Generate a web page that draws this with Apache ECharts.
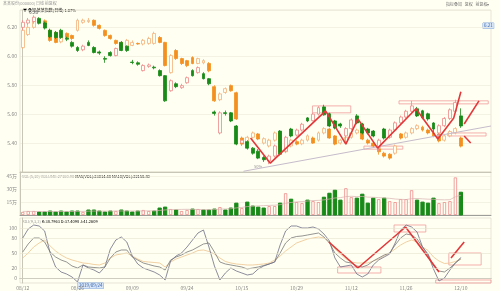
<!DOCTYPE html>
<html><head><meta charset="utf-8">
<script src="https://cdn.jsdelivr.net/npm/echarts@6/dist/echarts.min.js"></script>
<style>html,body{margin:0;padding:0;background:#fffff2;}#c{width:500px;height:291px;}</style>
</head><body><div id="c"></div>
<script>
// ---------- DATA ----------
const dates = ['08/12','08/13','08/14','08/15','08/16','08/19','08/20','08/21','08/22','08/23','08/26','08/27','08/28','08/29','08/30',
'09/02','09/03','09/04','09/05','09/06','09/09','09/10','09/11','09/12','09/16','09/17','09/18','09/19','09/20','09/23','09/24','09/25','09/26','09/27','09/30',
'10/08','10/09','10/10','10/11','10/14','10/15','10/16','10/17','10/18','10/21','10/22','10/23','10/24','10/25','10/28','10/29','10/30','10/31',
'11/01','11/04','11/05','11/06','11/07','11/08','11/11','11/12','11/13','11/14','11/15','11/18','11/19','11/20','11/21','11/22','11/25','11/26','11/27','11/28','11/29',
'12/02','12/03','12/04','12/05','12/06','12/09','12/10'];
const padCategories = ['','','','',''];
// main stock [open, close, low, high]
const mainCandles = [
[6.200,6.235,6.180,6.250],[6.230,6.250,6.215,6.265],[6.240,6.270,6.225,6.283],[6.262,6.228,6.220,6.270],[6.230,6.195,6.185,6.240],
[6.180,6.135,6.125,6.190],[6.165,6.130,6.120,6.175],[6.180,6.130,6.120,6.190],[6.125,6.118,6.105,6.135],[6.096,6.070,6.060,6.105],
[6.061,6.040,6.030,6.070],[6.045,6.070,6.035,6.080],[6.096,6.075,6.070,6.110],[6.061,6.026,6.020,6.070],[6.030,6.022,6.010,6.040],
[5.985,5.980,5.955,6.000],[6.026,6.005,5.998,6.035],[6.005,6.054,6.000,6.060],[6.096,6.040,6.035,6.105],[6.070,6.040,6.030,6.075],
[5.960,5.957,5.945,5.975],[5.955,5.945,5.935,5.965],[5.901,5.936,5.895,5.945],[5.930,5.940,5.920,5.950],[5.925,5.920,5.910,5.935],
[5.901,5.866,5.860,5.910],[5.866,5.692,5.685,5.870],[5.762,5.831,5.755,5.840],[5.810,5.790,5.780,5.820],[5.783,5.797,5.775,5.810],
[5.817,5.852,5.810,5.860],[5.901,5.866,5.860,5.910],[5.887,5.922,5.880,5.930],[5.880,5.845,5.840,5.890],[5.845,5.810,5.800,5.850],
[5.615,5.605,5.590,5.625],[5.470,5.609,5.460,5.620],[5.610,5.605,5.590,5.625],[5.609,5.553,5.545,5.615],[5.518,5.393,5.385,5.525],
[5.400,5.420,5.380,5.435],[5.410,5.365,5.355,5.420],[5.365,5.330,5.320,5.372],[5.344,5.296,5.289,5.358],[5.300,5.285,5.270,5.310],
[5.275,5.310,5.254,5.320],[5.310,5.380,5.300,5.390],[5.483,5.323,5.315,5.490],[5.344,5.440,5.335,5.450],[5.497,5.449,5.440,5.505],
[5.455,5.490,5.445,5.500],[5.490,5.530,5.480,5.540],[5.574,5.553,5.545,5.580],[5.555,5.600,5.550,5.610],[5.600,5.645,5.590,5.655],
[5.650,5.595,5.590,5.665],[5.602,5.518,5.510,5.610],[5.553,5.504,5.495,5.560],[5.532,5.518,5.505,5.540],[5.450,5.500,5.400,5.510],
[5.500,5.560,5.490,5.570],[5.588,5.539,5.530,5.600],[5.532,5.470,5.460,5.540],[5.497,5.470,5.460,5.505],[5.483,5.449,5.440,5.490],
[5.370,5.420,5.344,5.430],[5.497,5.435,5.425,5.505],[5.440,5.490,5.430,5.500],[5.490,5.540,5.480,5.550],[5.540,5.580,5.530,5.590],
[5.580,5.620,5.570,5.630],[5.620,5.657,5.610,5.692],[5.637,5.588,5.580,5.650],[5.623,5.574,5.565,5.630],[5.602,5.567,5.555,5.610],
[5.539,5.497,5.470,5.545],[5.470,5.520,5.440,5.530],[5.520,5.570,5.510,5.580],[5.570,5.630,5.560,5.640],[5.620,5.680,5.610,5.700],
[5.588,5.518,5.505,5.640]];
// overlaid index [open, close, low, high]
const overlayCandles = [
[6.060,6.180,6.050,6.200],[6.150,6.200,6.140,6.215],[6.200,6.240,6.190,6.250],[6.240,6.255,6.225,6.265],[6.245,6.220,6.210,6.255],
[6.179,6.110,6.100,6.190],[6.165,6.096,6.090,6.175],[6.100,6.130,6.090,6.140],[6.158,6.130,6.120,6.165],[6.144,6.123,6.110,6.150],
[6.179,6.249,6.170,6.260],[6.235,6.249,6.225,6.260],[6.240,6.249,6.230,6.265],[6.249,6.214,6.205,6.255],[6.214,6.193,6.185,6.220],
[6.179,6.144,6.135,6.185],[6.144,6.123,6.115,6.150],[6.110,6.089,6.080,6.115],[6.096,6.061,6.055,6.100],[6.068,6.110,6.060,6.120],
[6.075,6.096,6.070,6.110],[6.089,6.085,6.080,6.095],[6.085,6.110,6.075,6.120],[6.089,6.123,6.080,6.135],[6.089,6.158,6.080,6.170],
[6.130,6.096,6.090,6.140],[6.096,5.936,5.930,6.100],[5.887,6.005,5.880,6.015],[6.040,5.984,5.975,6.050],[5.984,5.950,5.940,5.990],
[5.970,5.936,5.925,5.975],[5.991,5.950,5.945,6.000],[5.950,5.984,5.945,5.990],[5.955,5.970,5.945,5.980],[5.950,5.900,5.890,5.960],
[5.790,5.692,5.685,5.800],[5.700,5.740,5.690,5.750],[5.750,5.776,5.740,5.785],[5.797,5.762,5.755,5.805],[5.748,5.567,5.560,5.755],
[5.435,5.393,5.385,5.445],[5.400,5.440,5.380,5.450],[5.440,5.470,5.430,5.480],[5.463,5.428,5.420,5.470],[5.400,5.430,5.390,5.440],
[5.380,5.420,5.370,5.430],[5.420,5.470,5.410,5.480],[5.475,5.340,5.330,5.485],[5.340,5.380,5.330,5.390],[5.380,5.420,5.370,5.430],
[5.410,5.393,5.385,5.420],[5.395,5.420,5.385,5.430],[5.420,5.450,5.410,5.460],[5.435,5.400,5.395,5.445],[5.420,5.470,5.410,5.480],
[5.470,5.500,5.460,5.510],[5.497,5.435,5.430,5.505],[5.449,5.393,5.385,5.455],[5.400,5.420,5.390,5.430],[5.410,5.440,5.400,5.450],
[5.440,5.470,5.430,5.480],[5.470,5.490,5.460,5.500],[5.483,5.428,5.420,5.490],[5.420,5.400,5.390,5.430],[5.400,5.380,5.370,5.410],
[5.360,5.340,5.320,5.370],[5.330,5.310,5.300,5.340],[5.323,5.296,5.285,5.330],[5.330,5.380,5.320,5.390],[5.463,5.435,5.425,5.470],
[5.440,5.470,5.430,5.480],[5.470,5.500,5.460,5.510],[5.500,5.520,5.490,5.530],[5.510,5.490,5.480,5.520],[5.490,5.470,5.460,5.500],
[5.470,5.449,5.440,5.480],[5.463,5.415,5.405,5.470],[5.420,5.450,5.410,5.460],[5.450,5.480,5.440,5.490],[5.470,5.500,5.460,5.510],
[5.435,5.379,5.370,5.445]];
// volume (万)
const volumes = [3.5,4.6,4.6,3.5,3.5,4.6,3.5,4.6,3.5,4.6,4.6,3.5,5.8,5.8,4.6,3.5,4.6,4.6,5.8,4.6,
3.5,4.6,5.8,4.6,4.6,8.1,9.2,6.9,5.8,4.6,5.8,6.9,6.9,5.8,5.8,6.9,9.2,5.8,8.1,13.8,
8.1,15,10.4,9.2,8.1,10.4,10.4,13.8,25.3,18.4,15,13.8,17.3,16.1,15,20.7,25.3,28.8,17.3,31.1,
20.7,19.6,24.2,13.8,19.6,18.4,19.6,16.1,15,18.4,18.4,28.8,17.3,15,13.8,19.6,13.8,15,16.1,43.7,26.5];
const volMA = [4.2,4.2,4.1,4.1,4.0,4.1,4.0,4.1,4.0,4.1,4.2,4.2,4.4,4.6,4.6,4.5,4.5,4.6,4.7,4.7,
4.6,4.6,4.7,4.8,4.8,5.3,5.9,6.2,6.4,6.5,6.6,6.5,6.4,6.3,6.2,6.3,6.8,7.0,7.3,8.3,
8.8,9.8,10.2,10.6,10.9,11.2,11.4,12.0,13.6,14.6,15.2,15.6,16.2,16.8,17.0,17.6,18.6,19.8,20.2,21.4,
21.8,21.4,21.6,20.8,20.6,20.2,19.8,19.4,18.6,18.2,18.0,19.0,19.2,18.8,18.4,18.2,17.8,17.6,17.8,21.2,23.0];
const kdjK = [52,68,80,80,72,52,42,36,32,24,20,26,22,21,20,22,40,52,56,56,
42,36,30,27,24,22,16,36,42,46,52,56,62,68,70,52,32,28,26,24,
22,18,20,22,25,28,32,50,70,80,83,84,86,88,90,82,70,50,40,32,
30,24,22,26,34,40,46,50,66,80,88,86,78,62,48,24,14,12,20,30,38.80];
const kdjD = [40,50,62,70,76,64,54,46,40,36,33,30,29,27,26,30,40,46,48,50,
44,38,33,32,31,30,22,32,38,42,46,50,55,56,53,48,40,33,30,28,
27,26,26,27,28,30,36,44,54,62,70,74,78,80,82,80,72,58,48,38,
32,30,30,30,34,38,44,50,58,66,72,76,72,62,55,42,34,29,30,33,37.41];
const kdjJ = [80,98,106,104,94,50,22,12,8,2,-8,26,20,16,10,22,58,76,82,72,
44,28,20,16,12,6,-4,34,44,50,62,76,90,96,62,24,-4,10,20,14,
10,6,8,18,24,28,32,66,94,104,104,100,100,102,98,88,74,40,22,24,
26,8,2,8,26,36,42,48,70,96,106,102,92,62,46,18,-6,0,16,30,41.26];
const kdjTicks = [0,20,50,80,100];
// drawn studies (x = bar index, y = value)
const trendLine = [[40.3,5.205],[85.5,5.518]];
const zigzagMain = [[41.6,5.435],[45.2,5.261],[55.3,5.623],[59.0,5.393],[61.2,5.567],[64.8,5.365],[71.8,5.637],[75.8,5.428],[78.7,5.574],[80.0,5.755]];
const arrowMain1 = [[80.6,5.532],[83.3,5.692]];
const arrowMain2 = [[80.6,5.449],[81.8,5.400]];
const boxesMain = [[[52.9,5.657],[59.9,5.609]],[[68.7,5.692],[85.0,5.671]],[[62.3,5.379],[69.4,5.358]],[[77.6,5.470],[84.6,5.449]]];
const zigzagKdj = [[55.9,72],[61.2,20],[69.9,102],[76.0,12]];
const arrowKdj = [[78.2,40],[80.6,72]];
const boxesKdj = [[[57.5,22],[65.4,10]],[[67.8,106],[73.6,92]],[[77.8,50],[83.7,26]],[[75.4,-4],[85.9,-10]]];

// ---------- CHART ----------
const categories = dates.concat(padCategories);
const BG = '#fffff2';
const F = 'Noto Sans CJK SC';
const lab = {fontSize:5, color:'#8a8a8a', fontFamily:F};
const volData = volumes.map((v,i)=>{const c=mainCandles[i];const up=c[1]>=c[0];
  return {value:v,itemStyle:up?{color:BG,borderColor:'#ee8a8a',borderWidth:0.8}:{color:'#178a17',borderColor:'#178a17'}};});
const red = {color:'#e2383a',width:1.6};
const boxStyle = {color:'rgba(0,0,0,0)',borderColor:'#f19a9a',borderWidth:0.8};
function boxes(b){return b.map(r=>[{coord:r[0]},{coord:r[1]}]);}
const richBase = {fontSize:4, fontFamily:F};
const rich = {g:Object.assign({fill:'#999',color:'#999'},richBase),k:Object.assign({color:'#333'},richBase),
  o:Object.assign({color:'#f09030'},richBase),p:Object.assign({color:'#6a5acd'},richBase)};
function hdr(x,y,t){return {type:'text',x:x,y:y,style:{text:t,rich:rich,fontSize:4,fontFamily:F}};}
const chart = echarts.init(document.getElementById('c'));
chart.setOption({
  animation:false, backgroundColor:BG,
  textStyle:{fontFamily:F},
  grid:[
    {left:20,right:9,top:10,height:162,show:true,borderColor:'#d6d4c4',borderWidth:0.6},
    {left:20,right:9,top:172,height:43,show:true,borderColor:'#d6d4c4',borderWidth:0.6},
    {left:20,right:9,top:218,height:65,show:true,borderColor:'#d6d4c4',borderWidth:0.6}],
  xAxis:[
    {type:'category',gridIndex:0,data:categories,axisLabel:{show:false},axisTick:{show:false},axisLine:{lineStyle:{color:'#c8c6b6'}}},
    {type:'category',gridIndex:1,data:categories,axisLabel:{show:false},axisTick:{show:false},axisLine:{lineStyle:{color:'#888',width:0.8}}},
    {type:'category',gridIndex:2,data:categories,axisLabel:Object.assign({interval:9,margin:3},lab),axisTick:{show:false},axisLine:{lineStyle:{color:'#999',width:0.8}}},
    {type:'value',gridIndex:0,min:-0.5,max:85.5,show:false},
    {type:'value',gridIndex:2,min:-0.5,max:85.5,show:false}],
  yAxis:[
    {gridIndex:0,min:5.2,max:6.32,interval:0.2,axisLabel:Object.assign({showMinLabel:false,showMaxLabel:false,margin:3,formatter:v=>v.toFixed(2)},lab),
      splitLine:{lineStyle:{color:'#ecead8',width:0.6}},axisLine:{show:true,lineStyle:{color:'#c8c6b6'}},axisTick:{show:false}},
    {gridIndex:1,min:0,max:50,interval:15,axisLabel:Object.assign({showMinLabel:false,showMaxLabel:false,margin:3,formatter:v=>v+'万'},lab),
      splitLine:{lineStyle:{color:'#ecead8',width:0.6}},axisLine:{show:true,lineStyle:{color:'#c8c6b6'}},axisTick:{show:false}},
    {gridIndex:2,min:-10,max:120,interval:10,axisLabel:Object.assign({margin:3,formatter:v=>kdjTicks.indexOf(v)>=0?String(v):''},lab),
      splitLine:{show:false},axisLine:{show:true,lineStyle:{color:'#c8c6b6'}},axisTick:{show:false}}],
  series:[
    {type:'candlestick',xAxisIndex:0,yAxisIndex:0,data:overlayCandles,barWidth:'62%',
      itemStyle:{color:BG,color0:'#f39020',borderColor:'#f4b27a',borderColor0:'#f39020',borderWidth:0.8}},
    {type:'candlestick',xAxisIndex:0,yAxisIndex:0,data:mainCandles,barWidth:'62%',
      itemStyle:{color:BG,color0:'#178a17',borderColor:'#ee8a8a',borderColor0:'#178a17',borderWidth:0.8},
      markPoint:{symbol:'circle',symbolSize:0,data:[{coord:[2,6.283],value:'6.28'}],
        label:{show:true,position:'top',distance:1,fontSize:4.5,color:'#555',formatter:'6.28'}}},
    {type:'bar',xAxisIndex:1,yAxisIndex:1,data:volData,barWidth:'60%'},
    {type:'line',xAxisIndex:1,yAxisIndex:1,data:volMA,symbol:'none',lineStyle:{color:'#d8b0b0',width:0.7}},
    {type:'line',xAxisIndex:2,yAxisIndex:2,data:kdjD,symbol:'none',lineStyle:{color:'#eec48e',width:0.8},
      markLine:{silent:true,symbol:'none',label:{show:false},lineStyle:{color:'#e6e2cc',type:'solid',width:0.6},data:kdjTicks.map(t=>({yAxis:t}))}},
    {type:'line',xAxisIndex:2,yAxisIndex:2,data:kdjK,symbol:'none',lineStyle:{color:'#7a7a7a',width:0.8}},
    {type:'line',xAxisIndex:2,yAxisIndex:2,data:kdjJ,symbol:'none',lineStyle:{color:'#6e6e86',width:0.8}},
    {type:'line',xAxisIndex:3,yAxisIndex:0,data:trendLine,symbol:'none',lineStyle:{color:'#c6bccb',width:1},
      markArea:{silent:true,itemStyle:boxStyle,data:boxes(boxesMain)}},
    {type:'line',xAxisIndex:3,yAxisIndex:0,data:zigzagMain,symbol:'none',lineStyle:red},
    {type:'line',xAxisIndex:3,yAxisIndex:0,data:arrowMain1,symbol:'none',lineStyle:red},
    {type:'line',xAxisIndex:3,yAxisIndex:0,data:arrowMain2,symbol:'none',lineStyle:red},
    {type:'line',xAxisIndex:4,yAxisIndex:2,data:zigzagKdj,symbol:'none',lineStyle:red,
      markArea:{silent:true,itemStyle:boxStyle,data:boxes(boxesKdj)}},
    {type:'line',xAxisIndex:4,yAxisIndex:2,data:arrowKdj,symbol:'none',lineStyle:red}
  ],
  graphic:[
    {type:'text',x:3,y:1,style:{text:'某某股份(000000) 日线 前复权',fontSize:4,fill:'#9a9a9a',fontFamily:F}},
    {type:'text',x:446,y:2,style:{text:'指标叠加   复权   前复权▾',fontSize:4,fill:'#777',fontFamily:F}},
    hdr(23,8,'{k|▼ 叠加} {o|某某指数(日线) 1.07%}'),
    hdr(22,174,'{g|VOL(5,10) VOLUME:27160.90} {k|MA5(VOL):23014.48} {o|MA10(VOL):22158.80}'),
    hdr(22,219,'{g|KDJ(9,3,3)} {k|K:38.7963} {o|D:37.4098} {p|J:41.2609}'),
    {type:'text',x:254,y:164,style:{text:'50%',fontSize:4,fill:'#999',fontFamily:F}},
    {type:'text',x:483,y:23,style:{text:'6.21',fontSize:4.5,fill:'#3a66aa',fontFamily:F,backgroundColor:'#d8e6f8',borderColor:'#86a8dc',borderWidth:0.5,padding:[0.5,1]}},
    {type:'text',x:78,y:283,style:{text:'2019/09/24',fontSize:4.5,fill:'#3a66aa',fontFamily:F,backgroundColor:'#d8e6f8',borderColor:'#86a8dc',borderWidth:0.5,padding:[0.5,1]}}
  ]
});
</script></body></html>
